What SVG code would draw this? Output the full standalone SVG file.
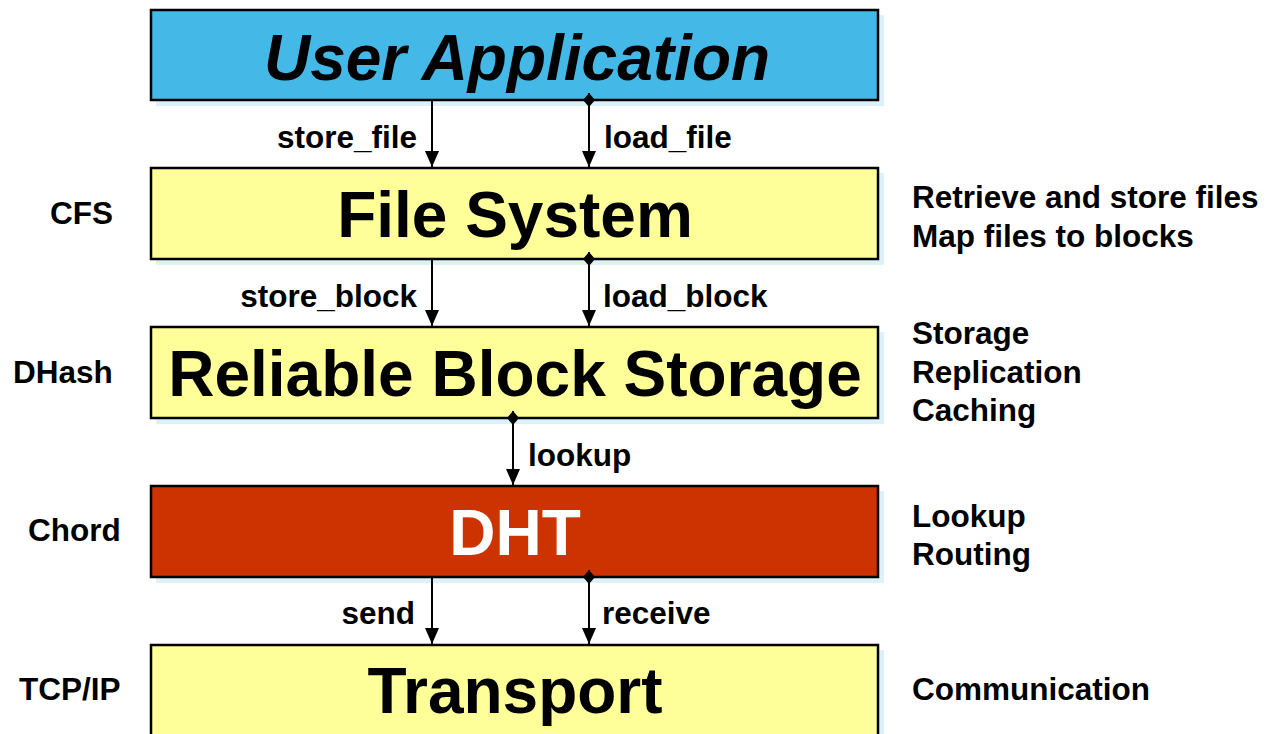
<svg xmlns="http://www.w3.org/2000/svg" width="1272" height="734" viewBox="0 0 1272 734">
<defs>
<style>
.shadow{fill:#DDF2F8}
.box{stroke:#000;stroke-width:2.5}
.title{font-family:"Liberation Sans",Arial,sans-serif;font-weight:bold;font-size:64px;text-anchor:middle}
.lbl{font-family:"Liberation Sans",Arial,sans-serif;font-weight:bold;font-size:31.5px;fill:#000}
.end{text-anchor:end}
.conn{stroke:#000;stroke-width:2;fill:none;marker-end:url(#arr)}
.dia{marker-start:url(#dia)}
</style>
<marker id="arr" markerUnits="userSpaceOnUse" markerWidth="16" markerHeight="14" refX="16" refY="7" orient="auto" viewBox="0 0 16 14">
<path d="M0,0 L16,7 L0,14 Z" fill="#000"/>
</marker>
<marker id="dia" markerUnits="userSpaceOnUse" markerWidth="14" markerHeight="12" refX="0" refY="6" orient="auto" viewBox="0 0 14 12">
<path d="M0,6 L7,0 L14,6 L7,12 Z" fill="#000"/>
</marker>
</defs>
<g id="user-app">
<rect class="shadow" x="156" y="15" width="728" height="91"/>
<rect class="box" x="151" y="10" width="727" height="90" fill="#44B8E6"/>
<text class="title" x="517" y="80" font-style="italic">User Application</text>
</g>
<g id="file-system">
<rect class="shadow" x="156" y="173" width="728" height="92"/>
<rect class="box" x="151" y="168" width="727" height="91" fill="#FFFF99"/>
<text class="title" x="515" y="237">File System</text>
<text class="lbl" x="50" y="224">CFS</text>
<text class="lbl" x="912" y="208">Retrieve and store files</text>
<text class="lbl" x="912" y="247">Map files to blocks</text>
</g>
<g id="block-storage">
<rect class="shadow" x="156" y="332" width="728" height="92"/>
<rect class="box" x="151" y="327" width="727" height="91" fill="#FFFF99"/>
<text class="title" x="515" y="396">Reliable Block Storage</text>
<text class="lbl" x="13" y="383">DHash</text>
<text class="lbl" x="912" y="344">Storage</text>
<text class="lbl" x="912" y="383">Replication</text>
<text class="lbl" x="912" y="421">Caching</text>
</g>
<g id="dht">
<rect class="shadow" x="156" y="491" width="728" height="92"/>
<rect class="box" x="151" y="486" width="727" height="91" fill="#CC3300"/>
<text class="title" x="515" y="555" fill="#fff">DHT</text>
<text class="lbl" x="28" y="541">Chord</text>
<text class="lbl" x="912" y="527">Lookup</text>
<text class="lbl" x="912" y="565">Routing</text>
</g>
<g id="transport">
<rect class="shadow" x="156" y="650" width="728" height="92"/>
<rect class="box" x="151" y="645" width="727" height="95" fill="#FFFF99"/>
<text class="title" x="515" y="713">Transport</text>
<text class="lbl" x="19" y="700">TCP/IP</text>
<text class="lbl" x="912" y="700">Communication</text>
</g>
<g id="connectors">
<line class="conn" x1="432" y1="101" x2="432" y2="167"/>
<line class="conn dia" x1="589" y1="93" x2="589" y2="167"/>
<line class="conn" x1="432" y1="260" x2="432" y2="326"/>
<line class="conn dia" x1="589" y1="252" x2="589" y2="326"/>
<line class="conn dia" x1="513" y1="411" x2="513" y2="485"/>
<line class="conn" x1="432" y1="578" x2="432" y2="644"/>
<line class="conn dia" x1="589" y1="570" x2="589" y2="644"/>
<text class="lbl end" x="417" y="148">store_file</text>
<text class="lbl" x="604" y="148">load_file</text>
<text class="lbl end" x="417" y="307">store_block</text>
<text class="lbl" x="603" y="307">load_block</text>
<text class="lbl" x="528" y="466">lookup</text>
<text class="lbl end" x="415" y="624">send</text>
<text class="lbl" x="602" y="624">receive</text>
</g>
</svg>
